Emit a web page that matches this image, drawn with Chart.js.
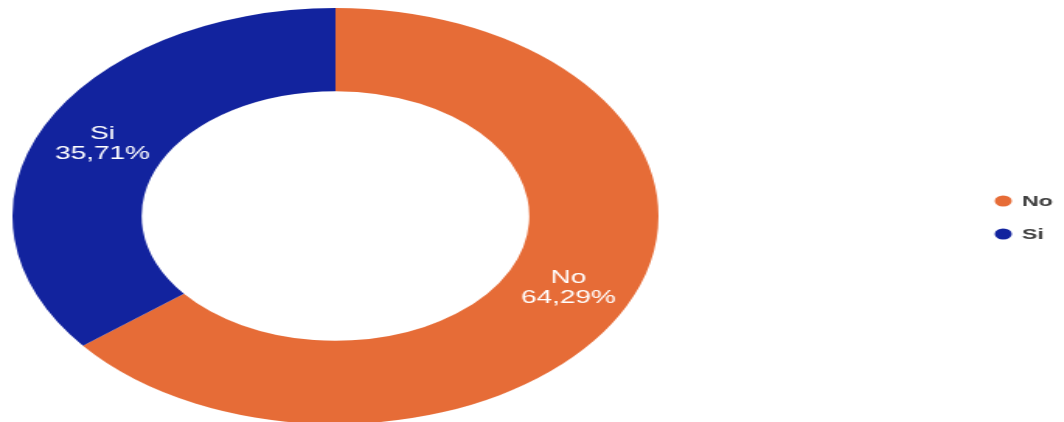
<!DOCTYPE html>
<html>
<head>
<meta charset="utf-8">
<script src="https://cdn.jsdelivr.net/npm/chart.js@4.4.1/dist/chart.umd.min.js"></script>
<style>
  html, body { margin: 0; padding: 0; background: #fff; overflow: hidden; }
  #wrap { width: 685px; height: 432px; transform: scaleX(1.553); transform-origin: 0 0; }
</style>
</head>
<body>
<div id="wrap"><canvas id="donutChart" width="685" height="432"></canvas></div>
<script>
// Answers and counts
const answers = ['No', 'Si'];
const counts = [9, 5];
const sliceColors = ['#E66C37', '#12239E'];

const total = counts.reduce((a, b) => a + b, 0);
const pct = v => (v / total * 100).toFixed(2).replace('.', ',') + '%';

// Label + percentage in the middle of each slice
const sliceLabels = {
    id: 'sliceLabels',
    afterDatasetsDraw(chart) {
        const ctx = chart.ctx;
        const meta = chart.getDatasetMeta(0);
        ctx.save();
        ctx.fillStyle = '#ffffff';
        ctx.font = '18px "Liberation Sans", Arial, sans-serif';
        ctx.textAlign = 'center';
        ctx.textBaseline = 'middle';
        meta.data.forEach((arc, i) => {
            const p = arc.tooltipPosition();
            ctx.fillText(chart.data.labels[i], p.x, p.y - 10);
            ctx.fillText(pct(chart.data.datasets[0].data[i]), p.x, p.y + 10);
        });
        ctx.restore();
    }
};

// Legend on the right, vertically centred
const sideLegend = {
    id: 'sideLegend',
    afterDraw(chart) {
        const ctx = chart.ctx;
        const x = 646, y0 = 201, step = 33;
        ctx.save();
        ctx.font = 'bold 15px "Liberation Sans", Arial, sans-serif';
        ctx.textBaseline = 'middle';
        chart.data.labels.forEach((label, i) => {
            const y = y0 + i * step;
            ctx.fillStyle = chart.data.datasets[0].backgroundColor[i];
            ctx.beginPath();
            ctx.arc(x, y, 5.5, 0, Math.PI * 2);
            ctx.fill();
            ctx.fillStyle = '#404040';
            ctx.fillText(label, x + 12, y + 1);
        });
        ctx.restore();
    }
};

new Chart(document.getElementById('donutChart'), {
    type: 'doughnut',
    data: {
        labels: answers,
        datasets: [{
            data: counts,
            backgroundColor: sliceColors,
            borderWidth: 0
        }]
    },
    options: {
        responsive: false,
        animation: false,
        events: [],
        cutout: '60%',
        layout: { padding: { top: 8, bottom: 8, left: 8, right: 261 } },
        plugins: {
            legend: { display: false },
            tooltip: { enabled: false }
        }
    },
    plugins: [sliceLabels, sideLegend]
});
</script>
</body>
</html>
